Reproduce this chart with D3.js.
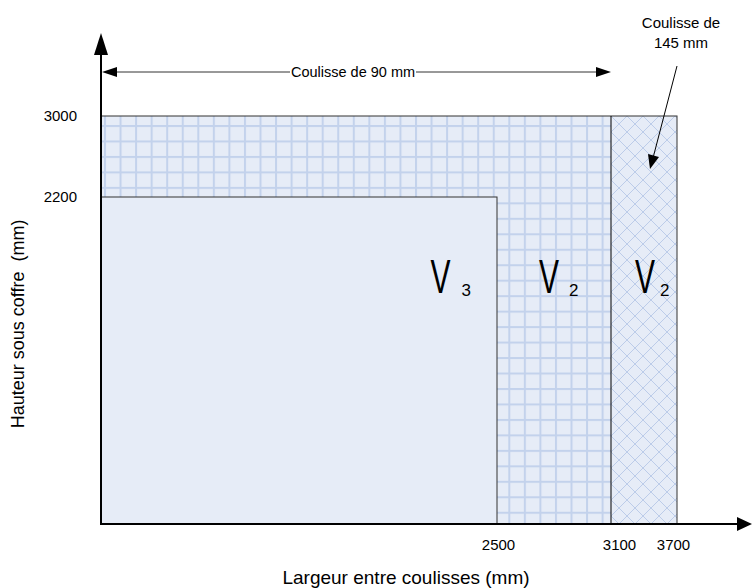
<!DOCTYPE html>
<html lang="fr">
<head>
<meta charset="UTF-8">
<title>Coulisses</title>
<script src="https://d3js.org/d3.v7.min.js"></script>
<style>
    body { margin: 0; padding: 0; background: #fff; }
    svg { display: block; font-family: "Liberation Sans", Arial, sans-serif; }
    .tick text { font-size: 15px; fill: #000; }
</style>
</head>
<body>
<svg width="752" height="588"></svg>
<script>
// chart values
const xBreaks = [0, 2500, 3100, 3700];      // largeur (mm)
const yBreaks = [0, 2200, 3000];            // hauteur (mm)
const xTicks = [2500, 3100, 3700];
const yTicks = [2200, 3000];
const zones = [
    { name: "V2", x0: 0, x1: 3100, h: 3000, fill: "grid" },
    { name: "V2b", x0: 3100, x1: 3700, h: 3000, fill: "cross" },
    { name: "V3", x0: 0, x1: 2500, h: 2200, fill: "plain" }
];
const zoneLabels = [
    { main: "V", sub: "3" },
    { main: "V", sub: "2" },
    { main: "V", sub: "2" }
];
const dimLabel = "Coulisse de 90 mm";
const calloutLines = ["Coulisse de", "145 mm"];
const xTitle = "Largeur entre coulisses (mm)";
const yTitle = "Hauteur sous coffre\u00a0 (mm)";

const svg = d3.select("svg");

// schematic (non-proportional) scales
const x = d3.scaleLinear().domain(xBreaks).range([101, 497, 611, 677]);
const y = d3.scaleLinear().domain(yBreaks).range([524, 197, 116]);

const light = "#e6ecf7";
const defs = svg.append("defs");

const grid = defs.append("pattern")
    .attr("id", "grid")
    .attr("patternUnits", "userSpaceOnUse")
    .attr("x", 104).attr("y", 125)
    .attr("width", 15.55).attr("height", 15.47);
grid.append("rect").attr("width", 15.55).attr("height", 15.47).attr("fill", light);
grid.append("rect").attr("width", 2).attr("height", 15.47).attr("fill", "#c3d2ec");
grid.append("rect").attr("width", 15.55).attr("height", 2).attr("fill", "#c3d2ec");

const cross = defs.append("pattern")
    .attr("id", "cross")
    .attr("patternUnits", "userSpaceOnUse")
    .attr("x", x(3100)).attr("y", y(3000))
    .attr("width", 16).attr("height", 16);
cross.append("rect").attr("width", 16).attr("height", 16).attr("fill", light);
cross.append("path")
    .attr("d", "M0,0L16,16M16,0L0,16")
    .attr("stroke", "#bccce9").attr("stroke-width", 1).attr("fill", "none");

// zones
svg.selectAll("rect.zone")
    .data(zones)
    .enter()
    .append("rect")
    .attr("class", "zone")
    .attr("x", d => x(d.x0))
    .attr("y", d => y(d.h))
    .attr("width", d => x(d.x1) - x(d.x0))
    .attr("height", d => y(0) - y(d.h))
    .attr("fill", d => d.fill === "plain" ? light : "url(#" + d.fill + ")")
    .attr("stroke", d => d.fill === "plain" ? "#333" : "none")
    .attr("stroke-width", 1);

// outer border and divider
svg.append("rect")
    .attr("x", x(0)).attr("y", y(3000))
    .attr("width", x(3700) - x(0)).attr("height", y(0) - y(3000))
    .attr("fill", "none").attr("stroke", "#333").attr("stroke-width", 1);
svg.append("line")
    .attr("x1", x(3100)).attr("x2", x(3100))
    .attr("y1", y(3000)).attr("y2", y(0))
    .attr("stroke", "#000").attr("stroke-width", 1);

// zone labels (V with subscript)
const labelPos = [
    { vx: 430.5, sx: 461.5 },
    { vx: 539, sx: 569 },
    { vx: 635, sx: 660 }
];
zoneLabels.forEach((d, i) => {
    svg.append("text")
        .attr("transform", "translate(" + labelPos[i].vx + ",293.3) scale(1,1.58)")
        .attr("font-size", 30)
        .text(d.main);
    svg.append("text")
        .attr("x", labelPos[i].sx).attr("y", 295.7)
        .attr("font-size", 17)
        .text(d.sub);
});

// axes (ticks only, arrows drawn by hand)
const xNudge = { 2500: 1, 3100: 8, 3700: -4 };
const xAxis = svg.append("g")
    .attr("transform", "translate(0," + y(0) + ")")
    .call(d3.axisBottom(x).tickValues(xTicks).tickSize(0).tickPadding(15).tickFormat(d3.format("d")));
xAxis.select(".domain").remove();
xAxis.selectAll("text").attr("font-family", null).attr("font-size", null)
    .attr("dx", d => xNudge[d]);

const yAxis = svg.append("g")
    .attr("transform", "translate(" + x(0) + ",0)")
    .call(d3.axisLeft(y).tickValues(yTicks).tickSize(0).tickPadding(24).tickFormat(d3.format("d")));
yAxis.select(".domain").remove();
yAxis.selectAll("text").attr("font-family", null).attr("font-size", null);

// axis lines with arrows
svg.append("line")
    .attr("x1", x(0)).attr("y1", y(0)).attr("x2", x(0)).attr("y2", 50)
    .attr("stroke", "#000").attr("stroke-width", 2);
svg.append("path")
    .attr("d", `M${x(0)},33L${x(0) + 7},55L${x(0) - 7},55Z`)
    .attr("fill", "#000");
svg.append("line")
    .attr("x1", x(0) - 1).attr("y1", y(0)).attr("x2", 740).attr("y2", y(0))
    .attr("stroke", "#000").attr("stroke-width", 2);
svg.append("path")
    .attr("d", `M752,${y(0)}L737,${y(0) - 7}L737,${y(0) + 7}Z`)
    .attr("fill", "#000");

// dimension arrow "Coulisse de 90 mm"
const dimY = 72;
svg.append("line")
    .attr("x1", x(0) + 10).attr("x2", x(3100) - 10)
    .attr("y1", dimY).attr("y2", dimY)
    .attr("stroke", "#333").attr("stroke-width", 1);
svg.append("path")
    .attr("d", `M${x(0) + 1},${dimY}L${x(0) + 16},${dimY - 5}L${x(0) + 16},${dimY + 5}Z`)
    .attr("fill", "#000");
svg.append("path")
    .attr("d", `M${x(3100)},${dimY}L${x(3100) - 15},${dimY - 5}L${x(3100) - 15},${dimY + 5}Z`)
    .attr("fill", "#000");
const dimMid = (x(0) + x(3100)) / 2;
svg.append("rect")
    .attr("x", dimMid - 66).attr("y", dimY - 8)
    .attr("width", 126).attr("height", 16)
    .attr("fill", "#fff");
svg.append("text")
    .attr("x", dimMid - 3).attr("y", dimY + 5)
    .attr("text-anchor", "middle")
    .attr("font-size", 14.5)
    .text(dimLabel);

// callout "Coulisse de 145 mm"
svg.selectAll("text.callout")
    .data(calloutLines)
    .enter()
    .append("text")
    .attr("class", "callout")
    .attr("x", 681)
    .attr("y", (d, i) => 28 + i * 20)
    .attr("text-anchor", "middle")
    .attr("font-size", 15)
    .text(d => d);
svg.append("line")
    .attr("x1", 677).attr("y1", 66).attr("x2", 653).attr("y2", 158)
    .attr("stroke", "#000").attr("stroke-width", 1);
svg.append("path")
    .attr("d", "M650,169L648,154L659,157Z")
    .attr("fill", "#000");

// axis titles
svg.append("text")
    .attr("x", 406).attr("y", 584)
    .attr("text-anchor", "middle")
    .attr("font-size", 19)
    .text(xTitle);
svg.append("text")
    .attr("transform", "translate(24,324) rotate(-90)")
    .attr("text-anchor", "middle")
    .attr("font-size", 18)
    .text(yTitle);
</script>
</body>
</html>
